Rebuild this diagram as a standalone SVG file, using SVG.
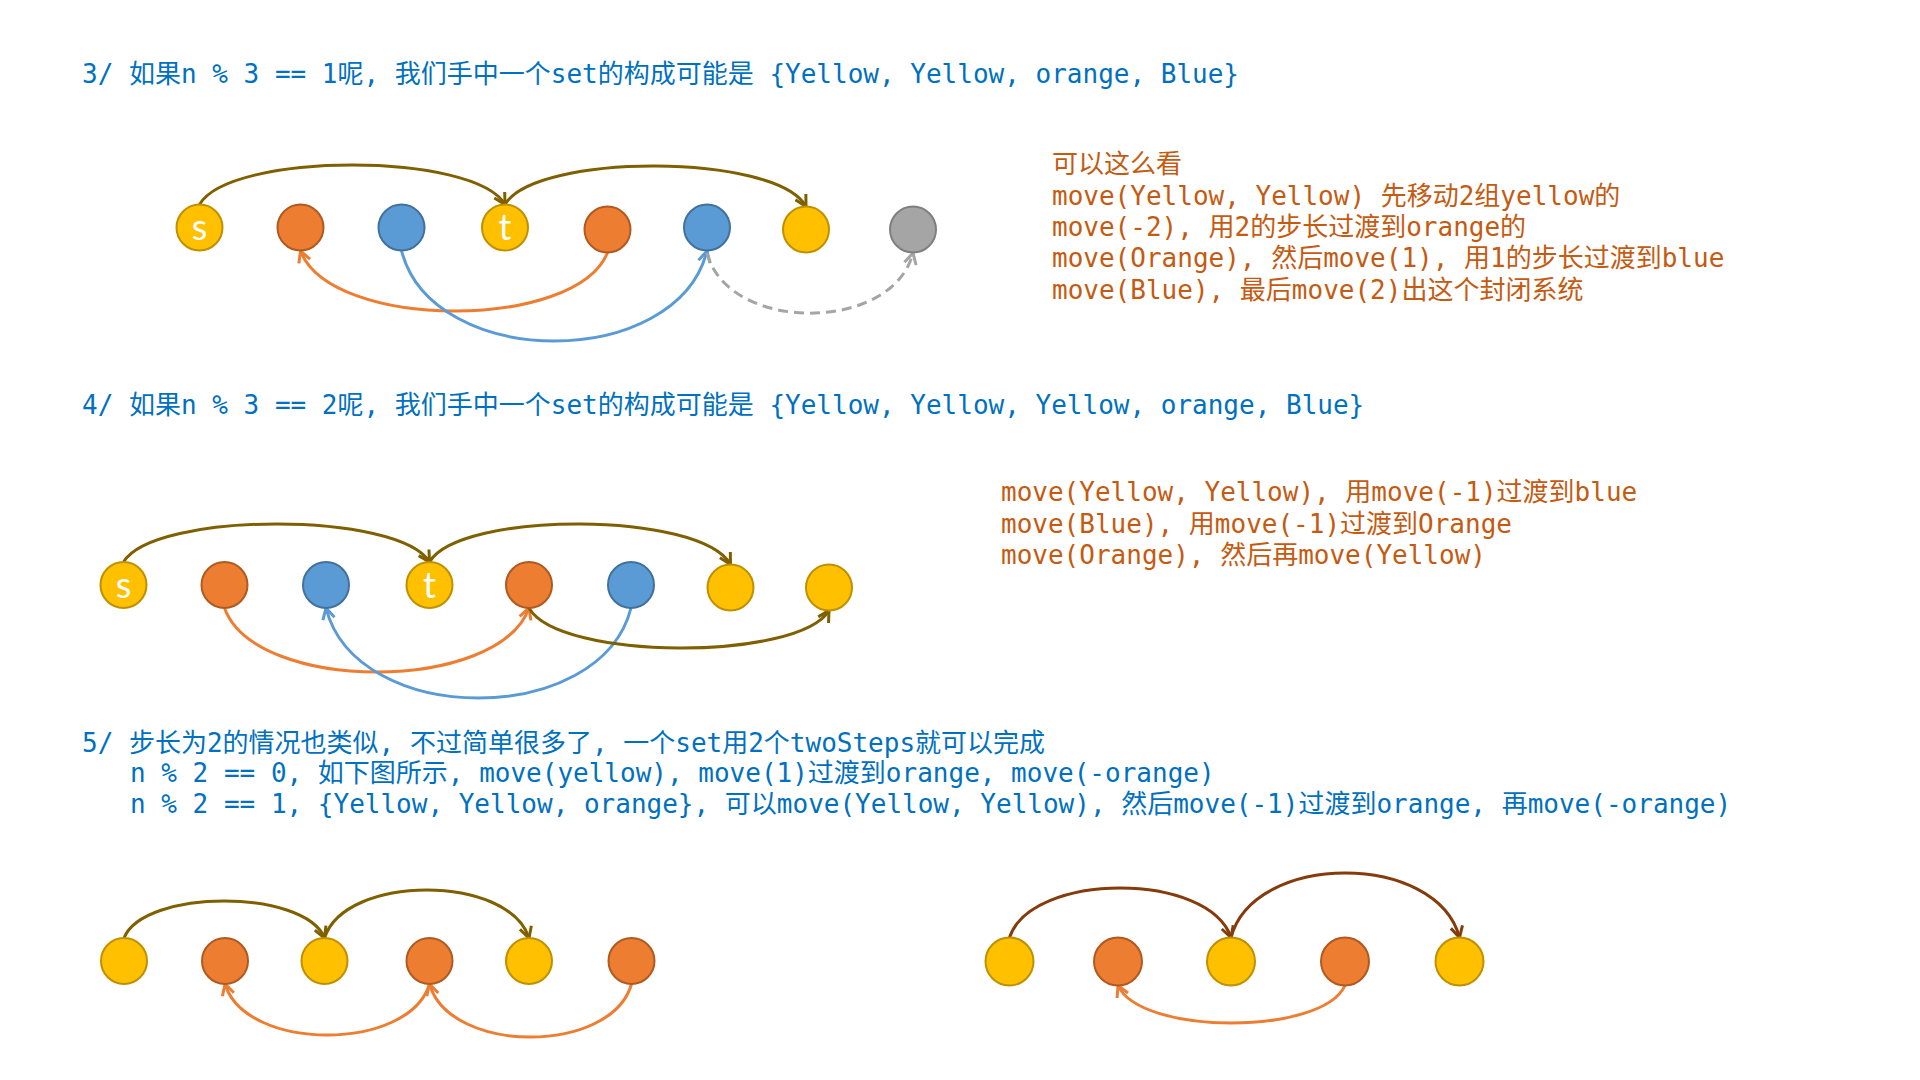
<svg xmlns="http://www.w3.org/2000/svg" width="1920" height="1080" viewBox="0 0 1920 1080">
<style>
.t{font-family:"DejaVu Sans Mono","Noto Sans CJK SC",monospace;font-size:26px}
.b{fill:#0070C0}
.o{fill:#C55A11}
.y{fill:#FFC000;stroke:#BF9000;stroke-width:2}
.r{fill:#ED7D31;stroke:#AE5A21;stroke-width:2}
.u{fill:#5B9BD5;stroke:#41719C;stroke-width:2}
.g{fill:#A5A5A5;stroke:#7F7F7F;stroke-width:2}
.lbl{font-family:Lato,"Open Sans",sans-serif;font-size:36px;fill:#fff;text-anchor:middle}
.c{fill:none;stroke-width:3}
.ol{stroke:#7F6000;marker-end:url(#mOl)}
.br{stroke:#843C0C;marker-end:url(#mBr)}
.or{stroke:#ED7D31;marker-end:url(#mOr)}
.bl{stroke:#5B9BD5;marker-end:url(#mBl)}
.gr{stroke:#A5A5A5;stroke-dasharray:10 6;marker-end:url(#mGr)}
</style>
<defs>
<marker id="mOl" viewBox="0 0 14 14" refX="12" refY="7" markerWidth="14" markerHeight="14" markerUnits="userSpaceOnUse" orient="auto" overflow="visible"><path d="M1,1 L12,7 L1,13" fill="none" stroke="#7F6000" stroke-width="3"/></marker>
<marker id="mBr" viewBox="0 0 14 14" refX="12" refY="7" markerWidth="14" markerHeight="14" markerUnits="userSpaceOnUse" orient="auto" overflow="visible"><path d="M1,1 L12,7 L1,13" fill="none" stroke="#843C0C" stroke-width="3"/></marker>
<marker id="mOr" viewBox="0 0 14 14" refX="12" refY="7" markerWidth="14" markerHeight="14" markerUnits="userSpaceOnUse" orient="auto" overflow="visible"><path d="M1,1 L12,7 L1,13" fill="none" stroke="#ED7D31" stroke-width="3"/></marker>
<marker id="mBl" viewBox="0 0 14 14" refX="12" refY="7" markerWidth="14" markerHeight="14" markerUnits="userSpaceOnUse" orient="auto" overflow="visible"><path d="M1,1 L12,7 L1,13" fill="none" stroke="#5B9BD5" stroke-width="3"/></marker>
<marker id="mGr" viewBox="0 0 14 14" refX="12" refY="7" markerWidth="14" markerHeight="14" markerUnits="userSpaceOnUse" orient="auto" overflow="visible"><path d="M1,1 L12,7 L1,13" fill="none" stroke="#A5A5A5" stroke-width="3"/></marker>
</defs>
<rect width="1920" height="1080" fill="#fff"/>

<g id="texts">
<text class="t b" x="82" y="82.5">3/ 如果n % 3 == 1呢, 我们手中一个set的构成可能是 {Yellow, Yellow, orange, Blue}</text>
<text class="t o" x="1052" y="173">可以这么看</text>
<text class="t o" x="1052" y="204.5">move(Yellow, Yellow) 先移动2组yellow的</text>
<text class="t o" x="1052" y="236">move(-2), 用2的步长过渡到orange的</text>
<text class="t o" x="1052" y="267">move(Orange), 然后move(1), 用1的步长过渡到blue</text>
<text class="t o" x="1052" y="298.5">move(Blue), 最后move(2)出这个封闭系统</text>
<text class="t b" x="82" y="413.5">4/ 如果n % 3 == 2呢, 我们手中一个set的构成可能是 {Yellow, Yellow, Yellow, orange, Blue}</text>
<text class="t o" x="1001" y="501">move(Yellow, Yellow), 用move(-1)过渡到blue</text>
<text class="t o" x="1001" y="532.5">move(Blue), 用move(-1)过渡到Orange</text>
<text class="t o" x="1001" y="564">move(Orange), 然后再move(Yellow)</text>
<text class="t b" x="82" y="752">5/ 步长为2的情况也类似, 不过简单很多了, 一个set用2个twoSteps就可以完成</text>
<text class="t b" x="130" y="782">n % 2 == 0, 如下图所示, move(yellow), move(1)过渡到orange, move(-orange)</text>
<text class="t b" x="130" y="813">n % 2 == 1, {Yellow, Yellow, orange}, 可以move(Yellow, Yellow), 然后move(-1)过渡到orange, 再move(-orange)</text>
</g>

<g id="connectors">
<path class="c ol" d="M199.5,204.5 C230,151.8 474.5,151.8 505,204.5"/>
<path class="c ol" d="M505,204.5 C535,152.8 776,152.8 806,206.5"/>
<path class="c or" d="M607.5,252.5 C576.8,330.8 331.2,330.8 300.5,251"/>
<path class="c bl" d="M401.5,250.5 C432,371 676.5,371 707,251"/>
<path class="c gr" d="M707,253 C727.6,333.2 892.4,333.2 913,253"/>

<path class="c ol" d="M123.5,562 C154,511.3 399,511.3 429.5,562"/>
<path class="c ol" d="M429.5,562 C459.6,510.9 700.4,510.9 730.5,564.5"/>
<path class="c or" d="M224.5,608 C255,693.3 498.5,693.3 529,608"/>
<path class="c bl" d="M631,608 C600.5,728 356.5,728 326,608"/>
<path class="c ol" d="M529,608 C559,660.9 799,660.9 829,610.5"/>

<path class="c ol" d="M124,938 C144,888.7 304.5,888.7 324.5,938"/>
<path class="c ol" d="M324.5,938 C345,874 508.5,874 529,938"/>
<path class="c or" d="M429.5,984 C409,1052 245.5,1052 225,984"/>
<path class="c or" d="M631.5,984 C611.3,1054.7 449.7,1054.7 429.5,984"/>

<path class="c br" d="M1009.5,937.5 C1031.7,871.5 1208.9,871.5 1231,937.5"/>
<path class="c br" d="M1231,937.5 C1253.9,851.5 1436.7,851.5 1459.5,937.5"/>
<path class="c or" d="M1345,985.5 C1322.3,1035.5 1140.7,1035.5 1118,985.5"/>
</g>

<g id="s3-n1"><circle class="y" cx="199.5" cy="227.5" r="23"/><text class="lbl" x="199.5" y="240">s</text></g>
<g id="s3-n2"><circle class="r" cx="300.5" cy="227.5" r="23"/></g>
<g id="s3-n3"><circle class="u" cx="401.5" cy="227.5" r="23"/></g>
<g id="s3-n4"><circle class="y" cx="505" cy="227.5" r="23"/><text class="lbl" x="505" y="240">t</text></g>
<g id="s3-n5"><circle class="r" cx="607.5" cy="229.5" r="23"/></g>
<g id="s3-n6"><circle class="u" cx="707" cy="227.5" r="23"/></g>
<g id="s3-n7"><circle class="y" cx="806" cy="229.5" r="23"/></g>
<g id="s3-n8"><circle class="g" cx="913" cy="229.5" r="23"/></g>

<g id="s4-n1"><circle class="y" cx="123.5" cy="585" r="23"/><text class="lbl" x="123.5" y="597.5">s</text></g>
<g id="s4-n2"><circle class="r" cx="224.5" cy="585" r="23"/></g>
<g id="s4-n3"><circle class="u" cx="326" cy="585" r="23"/></g>
<g id="s4-n4"><circle class="y" cx="429.5" cy="585" r="23"/><text class="lbl" x="429.5" y="597.5">t</text></g>
<g id="s4-n5"><circle class="r" cx="529" cy="585" r="23"/></g>
<g id="s4-n6"><circle class="u" cx="631" cy="585" r="23"/></g>
<g id="s4-n7"><circle class="y" cx="730.5" cy="587.5" r="23"/></g>
<g id="s4-n8"><circle class="y" cx="829" cy="587.5" r="23"/></g>

<g id="s5a-n1"><circle class="y" cx="124" cy="961" r="23"/></g>
<g id="s5a-n2"><circle class="r" cx="225" cy="961" r="23"/></g>
<g id="s5a-n3"><circle class="y" cx="324.5" cy="961" r="23"/></g>
<g id="s5a-n4"><circle class="r" cx="429.5" cy="961" r="23"/></g>
<g id="s5a-n5"><circle class="y" cx="529" cy="961" r="23"/></g>
<g id="s5a-n6"><circle class="r" cx="631.5" cy="961" r="23"/></g>

<g id="s5b-n1"><circle class="y" cx="1009.5" cy="961.5" r="24"/></g>
<g id="s5b-n2"><circle class="r" cx="1118" cy="961.5" r="24"/></g>
<g id="s5b-n3"><circle class="y" cx="1231" cy="961.5" r="24"/></g>
<g id="s5b-n4"><circle class="r" cx="1345" cy="961.5" r="24"/></g>
<g id="s5b-n5"><circle class="y" cx="1459.5" cy="961.5" r="24"/></g>
</svg>
